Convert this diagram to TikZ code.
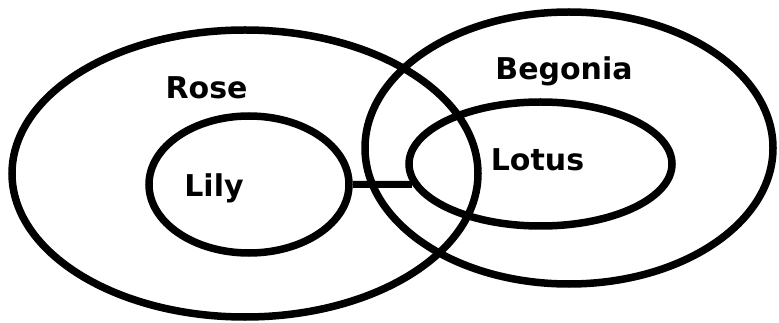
\documentclass[tikz,border=0pt]{standalone}
\usepackage{fontspec}
\setmainfont{DejaVu Sans}
\usetikzlibrary{shapes.geometric}

\begin{document}
\begin{tikzpicture}[x=1pt, y=-1pt,
            ring/.style={draw, ellipse, line width=7.5pt, inner sep=0pt},
            flowerlabel/.style={anchor=base, inner sep=0pt, font=\fontsize{30}{36}\selectfont\bfseries},
            link/.style={line width=7pt}
        ]
        \useasboundingbox (0,0) rectangle (779,323);
        \node[ring, minimum width=466pt, minimum height=287pt] (rose) at (245,173.5) {};
        \node[ring, minimum width=408pt, minimum height=272pt] (begonia) at (569,148) {};
        \node[ring, minimum width=200pt, minimum height=137pt] (lily) at (249,184.5) {};
        \node[ring, minimum width=263pt, minimum height=124pt] (lotus) at (540.5,164) {};

        \node[flowerlabel] (rosetext) at (206.5,99) {Rose};
        \node[flowerlabel] (begoniatext) at (564,80) {Begonia};
        \node[flowerlabel] (lilytext) at (214,197) {Lily};
        \node[flowerlabel] (lotustext) at (537.5,171) {Lotus};

        \draw[link] (lily.east) -- (lotus.189);
    \end{tikzpicture}
\end{document}
